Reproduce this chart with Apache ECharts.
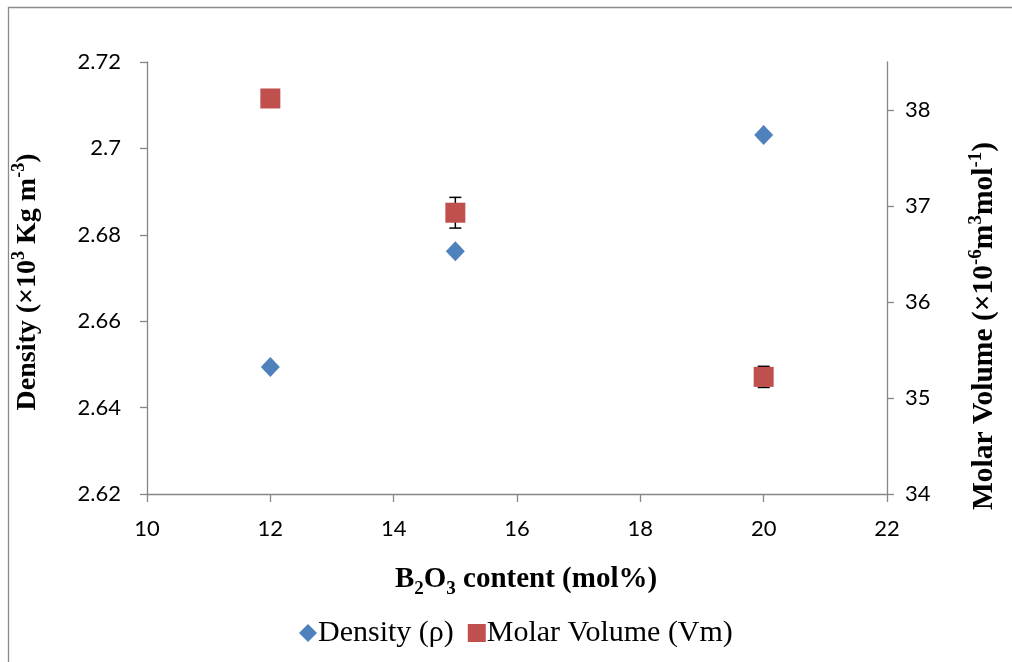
<!DOCTYPE html>
<html><head><meta charset="utf-8">
<script src="https://cdn.jsdelivr.net/npm/echarts@6/dist/echarts.min.js"></script>
<style>html,body{margin:0;padding:0;background:#fff}#c{width:1012px;height:662px}</style>
</head><body><div id="c"></div>
<script>
const xValues = [12, 15, 20];
const density = [2.6494, 2.6762, 2.7031];
const molarVolume = [38.12, 36.93, 35.22];
const molarVolumeErr = [0, 0.16, 0.11];
const xTicks = {min: 10, max: 22, interval: 2};
const leftTicks = {min: 2.62, max: 2.72, interval: 0.02};
const rightTicks = {min: 34, max: 38.5, interval: 1};

const chart = echarts.init(document.getElementById('c'));
const axisLine = {show: true, lineStyle: {color: '#868686', width: 1.3}};
const tickFont = {color: '#000', fontFamily: 'Lato', fontSize: 22};
const serif = 'Liberation Serif';
const mkRich = (big, small) => ({
  b: {fontFamily: serif, fontWeight: 'bold', fontSize: big, verticalAlign: 'bottom', lineHeight: 32},
  s: {fontFamily: serif, fontWeight: 'bold', fontSize: small, verticalAlign: 'top', lineHeight: 32}
});

chart.setOption({
  animation: false,
  grid: {left: 147, right: 125, top: 62, bottom: 168},
  graphic: [
    {type: 'rect', shape: {x: 8.5, y: 7.5, width: 1100, height: 700}, style: {fill: 'none', stroke: '#8c8c8c', lineWidth: 1.3}, silent: true},
    {type: 'text', x: 26, y: 282, rotation: Math.PI / 2, style: {
      text: '{b|Density (×10}{s|3}{b| Kg m}{s|-3}{b|)}', rich: mkRich(28, 18),
      align: 'center', verticalAlign: 'middle'}},
    {type: 'text', x: 983, y: 326, rotation: Math.PI / 2, style: {
      text: '{b|Molar Volume (×10}{s|-6}{b|m}{s|3}{b|mol}{s|-1}{b|)}', rich: mkRich(29.5, 19),
      align: 'center', verticalAlign: 'middle'}},
    {type: 'text', x: 526, y: 582, style: {
      text: '{b|B}{u|2}{b|O}{u|3}{b| content (mol%)}',
      rich: {b: {fontFamily: serif, fontWeight: 'bold', fontSize: 29, verticalAlign: 'top', lineHeight: 34},
             u: {fontFamily: serif, fontWeight: 'bold', fontSize: 19, verticalAlign: 'bottom', lineHeight: 34}},
      align: 'center', verticalAlign: 'middle'}}
  ],
  legend: {
    top: 613, left: 294, itemGap: 14, itemWidth: 18, itemHeight: 18,
    textStyle: {fontFamily: serif, fontSize: 30, color: '#000', padding: [0, 0, 0, -4]},
    data: [{name: 'Density (ρ)', icon: 'diamond'}, {name: 'Molar Volume (Vm)', icon: 'rect'}]
  },
  xAxis: {
    type: 'value', min: xTicks.min, max: xTicks.max, interval: xTicks.interval,
    axisLine: axisLine, axisTick: {show: true, length: 8, lineStyle: {color: '#868686', width: 1.3}},
    splitLine: {show: false}, axisLabel: Object.assign({margin: 24}, tickFont)
  },
  yAxis: [
    {type: 'value', min: leftTicks.min, max: leftTicks.max, interval: leftTicks.interval,
     axisLine: axisLine, axisTick: {show: true, length: 7, lineStyle: {color: '#868686', width: 1.3}},
     splitLine: {show: false}, axisLabel: Object.assign({margin: 26, formatter: v => String(+v.toFixed(2))}, tickFont)},
    {type: 'value', position: 'right', min: rightTicks.min, max: rightTicks.max, interval: rightTicks.interval,
     axisLine: axisLine, axisTick: {show: true, length: 7, lineStyle: {color: '#868686', width: 1.3}},
     splitLine: {show: false},
     axisLabel: Object.assign({margin: 18, showMaxLabel: false, formatter: v => (Number.isInteger(v) ? String(v) : '')}, tickFont)}
  ],
  series: [
    {name: 'errbar', type: 'custom', yAxisIndex: 1, z: 1,
     data: xValues.map((x, i) => [x, molarVolume[i] - molarVolumeErr[i], molarVolume[i] + molarVolumeErr[i]]),
     renderItem: (params, api) => {
       const lo = api.coord([api.value(0), api.value(1)]);
       const hi = api.coord([api.value(0), api.value(2)]);
       const w = 6;
       const st = {stroke: '#000', lineWidth: 1.5};
       return {type: 'group', children: [
         {type: 'line', shape: {x1: lo[0], y1: lo[1], x2: hi[0], y2: hi[1]}, style: st},
         {type: 'line', shape: {x1: lo[0] - w, y1: lo[1], x2: lo[0] + w, y2: lo[1]}, style: st},
         {type: 'line', shape: {x1: hi[0] - w, y1: hi[1], x2: hi[0] + w, y2: hi[1]}, style: st}
       ]};
     }},
    {name: 'Density (ρ)', type: 'scatter', yAxisIndex: 0, symbol: 'diamond', symbolSize: [19, 20], z: 3,
     itemStyle: {color: '#4F81BD', opacity: 1},
     data: xValues.map((x, i) => [x, density[i]])},
    {name: 'Molar Volume (Vm)', type: 'scatter', yAxisIndex: 1, symbol: 'rect', symbolSize: 20, z: 3,
     itemStyle: {color: '#C0504D', opacity: 1},
     data: xValues.map((x, i) => [x, molarVolume[i]])}
  ]
});
</script></body></html>
